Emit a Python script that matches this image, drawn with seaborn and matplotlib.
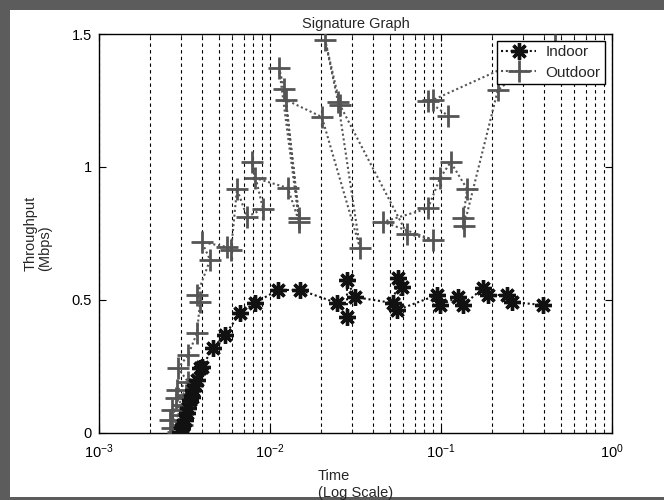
import matplotlib
matplotlib.use("Agg")
import matplotlib.pyplot as plt
from matplotlib.lines import Line2D
from matplotlib.patches import Rectangle
from matplotlib.ticker import LogLocator, FixedLocator
import seaborn as sns
import pandas as pd

# Indoor measurements (time in s, throughput in Mbps)
indoor_t = [2.98e-3, 3.10e-3, 3.06e-3, 3.18e-3, 3.27e-3, 3.32e-3, 3.41e-3, 3.50e-3,
            3.55e-3, 3.74e-3, 3.64e-3, 3.90e-3, 4.00e-3, 4.64e-3, 5.46e-3, 6.68e-3,
            8.17e-3, 1.11e-2, 1.50e-2, 2.46e-2, 2.82e-2, 2.82e-2, 3.14e-2, 5.24e-2,
            5.61e-2, 5.92e-2, 5.53e-2, 9.48e-2, 9.87e-2, 0.126, 0.135, 0.176,
            0.188, 0.243, 0.260, 0.395]
indoor_tp = [0.003, 0.029, 0.018, 0.048, 0.074, 0.093, 0.123, 0.134,
             0.161, 0.198, 0.179, 0.243, 0.247, 0.319, 0.368, 0.450,
             0.488, 0.537, 0.537, 0.488, 0.435, 0.574, 0.510, 0.488,
             0.582, 0.548, 0.461, 0.518, 0.480, 0.510, 0.480, 0.544,
             0.518, 0.518, 0.492, 0.480]

# Outdoor measurements
outdoor_t = [2.90e-3, 2.67e-3, 3.06e-3, 2.60e-3, 2.98e-3, 2.67e-3, 3.10e-3, 2.82e-3,
             3.23e-3, 2.86e-3, 3.32e-3, 2.90e-3, 3.32e-3, 3.74e-3, 3.90e-3, 3.74e-3,
             4.46e-3, 4.00e-3, 5.60e-3, 5.92e-3, 6.41e-3, 7.33e-3, 9.10e-3, 7.85e-3,
             8.17e-3, 1.27e-2, 1.48e-2, 1.13e-2, 1.21e-2, 1.48e-2, 1.24e-2, 2.01e-2,
             3.36e-2, 2.50e-2, 2.10e-2, 2.57e-2, 6.33e-2, 8.98e-2, 4.58e-2, 8.39e-2,
             9.87e-2, 0.114, 0.142, 0.135, 0.136, 0.215, 0.464, 8.98e-2,
             8.39e-2, 0.110]
outdoor_tp = [0.003, 0.018, 0.029, 0.048, 0.067, 0.085, 0.104, 0.131,
              0.142, 0.161, 0.191, 0.243, 0.292, 0.375, 0.492, 0.518,
              0.650, 0.717, 0.699, 0.687, 0.917, 0.812, 0.842, 1.018,
              0.958, 0.921, 0.793, 1.372, 1.293, 0.808, 1.252, 1.188,
              0.695, 1.244, 1.478, 1.232, 0.748, 0.726, 0.793, 0.844,
              0.958, 1.018, 0.917, 0.808, 0.776, 1.289, 1.459, 1.252,
              1.248, 1.192]

y_ticks = [0, 0.5, 1, 1.5]
y_ticklabels = ["0", "0.5", "1", "1.5"]

sns.set_theme(style="ticks")
plt.rcParams["font.family"] = ["Liberation Sans", "DejaVu Sans"]
plt.rcParams["mathtext.fontset"] = "custom"
plt.rcParams["mathtext.rm"] = "Liberation Sans"

fig = plt.figure(figsize=(6.64, 5.0), dpi=100, facecolor="#5c5c5c")
# white panel behind the axes (the slide's figure window)
panel = Rectangle((10 / 664, 3 / 500), 654 / 664, 487 / 500,
                  transform=fig.transFigure, facecolor="white",
                  edgecolor="none", zorder=-5)
fig.add_artist(panel)
ax = fig.add_axes([99 / 664, 67.3 / 500, 513 / 664, 398.7 / 500])
ax.set_facecolor("white")
ax.set_zorder(2)

df_in = pd.DataFrame({"t": indoor_t, "tp": indoor_tp})
df_out = pd.DataFrame({"t": outdoor_t, "tp": outdoor_tp})

asterisk = (8, 2, 0)
out_col = "#555555"
in_col = "#111111"
dot = (0, (1, 1.3))

sns.lineplot(data=df_out, x="t", y="tp", sort=False, estimator=None, ax=ax,
             color=out_col, linestyle=dot, linewidth=1.5,
             marker="+", markersize=16, markeredgewidth=2.0,
             markeredgecolor=out_col, zorder=3)
sns.lineplot(data=df_in, x="t", y="tp", sort=False, estimator=None, ax=ax,
             color=in_col, linestyle=dot, linewidth=1.5,
             marker=asterisk, markersize=12, markeredgewidth=2.4,
             markeredgecolor=in_col, zorder=4)

ax.set_xscale("log")
ax.set_xlim(1e-3, 1)
ax.set_ylim(0, 1.5)
ax.yaxis.set_major_locator(FixedLocator(y_ticks))
ax.set_yticklabels(y_ticklabels)
ax.xaxis.set_major_locator(LogLocator(base=10, numticks=10))
ax.xaxis.set_minor_locator(LogLocator(base=10, subs=range(2, 10), numticks=10))
ax.xaxis.set_minor_formatter(plt.NullFormatter())

ax.grid(True, which="both", axis="x", color="black",
        linestyle=(0, (3, 3)), linewidth=0.8)
ax.grid(False, axis="y")

ax.tick_params(which="major", direction="in", length=5, width=0.8,
               top=True, right=True, labelsize=10.5, colors="black")
ax.tick_params(axis="x", which="major", pad=7)
ax.tick_params(axis="y", which="major", pad=5)
ax.tick_params(which="minor", direction="in", length=3, width=0.6,
               top=True, right=True)
for s in ax.spines.values():
    s.set_color("black")
    s.set_linewidth(1.0)

ax.set_title("Signature Graph", fontsize=10.5, pad=4)
ax.set_xlabel("Time\n(Log Scale)", fontsize=10.5, multialignment="left",
              labelpad=6, linespacing=1.25)
ax.set_ylabel("Throughput\n(Mbps)", fontsize=10.5, multialignment="left",
              labelpad=14, linespacing=1.1)

handles = [
    Line2D([], [], color=in_col, linestyle=dot, linewidth=1.5,
           marker=asterisk, markersize=12, markeredgewidth=2.4),
    Line2D([], [], color=out_col, linestyle=dot, linewidth=1.5,
           marker="+", markersize=16, markeredgewidth=2.0),
]
leg = ax.legend(handles, ["Indoor", "Outdoor"], loc="upper right",
                fontsize=11, frameon=True, fancybox=False, framealpha=1,
                edgecolor="black", borderaxespad=0.45, handlelength=2.3,
                labelspacing=0.4, borderpad=0.3, handletextpad=0.6)
leg.get_frame().set_linewidth(1.0)
leg.set_zorder(10)

fig.savefig("out.png", dpi=100, facecolor=fig.get_facecolor())
